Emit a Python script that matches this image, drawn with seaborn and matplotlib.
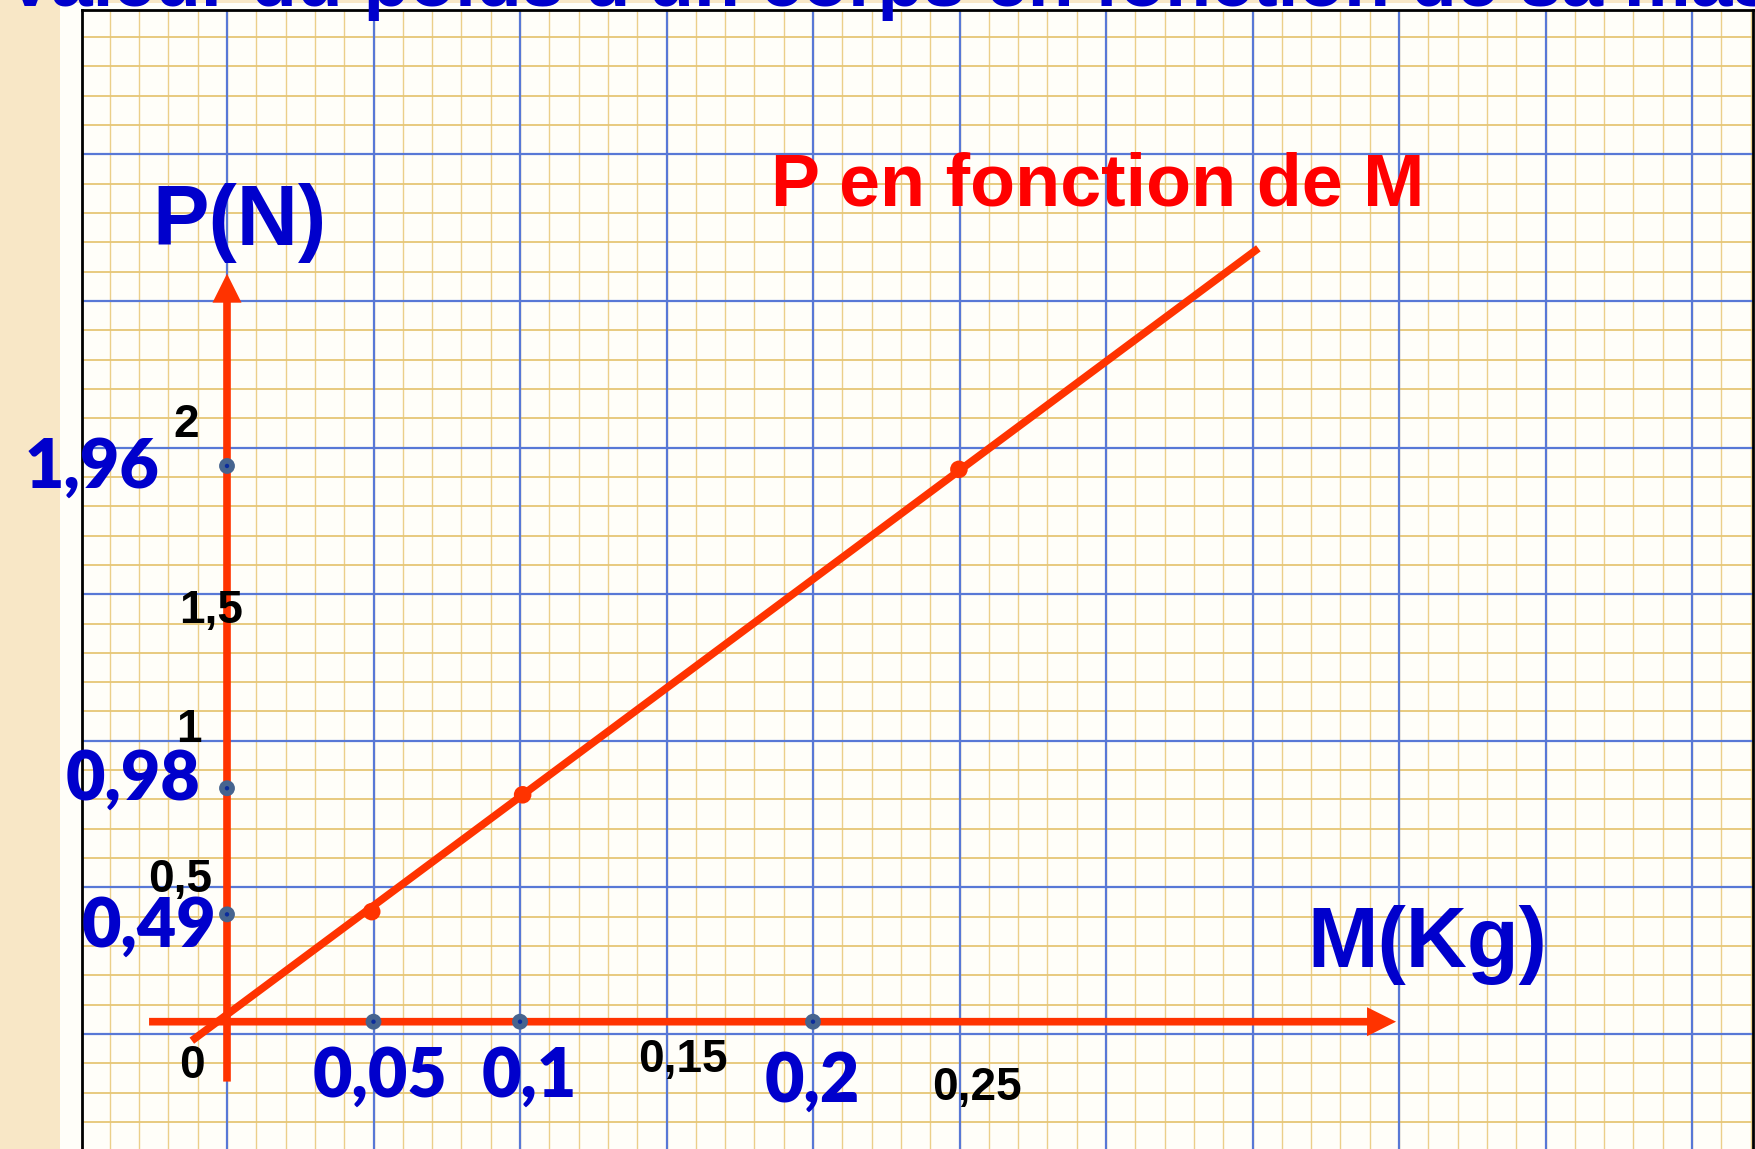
import numpy as np
import matplotlib
matplotlib.use("Agg")
import matplotlib.pyplot as plt
from matplotlib.patches import Rectangle
import seaborn as sns

# -----------------------------
# Data (M in kg, P in N)
# -----------------------------
pts_m = [0.0494, 0.1009, 0.2498]          # measured points on the line
pts_p = [0.487, 1.004, 2.444]
line_m = [-0.012, 0.352]                  # ends of the drawn line
line_p = [-0.084, 3.422]
xdots_m = [0.05, 0.1, 0.2]                # projections on the M axis
ydots_p = [0.475, 1.033, 2.459]           # projections on the P axis

xlab_blue = ["0,05", "0,1", "0,2"]
xlab_blue_pos = [(0.0522, -0.333), (0.1031, -0.331), (0.1997, -0.353)]
ylab_blue = ["0,49", "0,98", "1,96"]
ylab_blue_pos = [(-0.0266, 0.331), (-0.0321, 0.981), (-0.0462, 2.361)]

black_labels = ["0", "0,5", "1", "1,5", "2", "0,15", "0,25"]
black_pos = [(-0.0121, -0.247), (-0.0160, 0.575), (-0.0130, 1.239), (-0.0053, 1.764),
             (-0.0140, 2.587), (0.1556, -0.221), (0.2560, -0.346)]

title = "Valeur du poids d'un corps en fonction de sa masse"
curve_label = "P en fonction de M"

# -----------------------------
# Page geometry (pixels of the 1755x1149 picture)
# -----------------------------
W, H = 1755, 1149
X0, KG = 227, 2930.0      # pixel of M=0, pixels per kg
Y0, NW = 1021.7, 226.0    # pixel of P=0, pixels per N

RED = "#ff3300"
BLUE = "#0000cc"
DOT = "#46648f"

fig = plt.figure(figsize=(W / 100, H / 100), dpi=100, facecolor="#f8e7c6")
fig.patches.append(Rectangle((60 / W, 0), 1, (H - 3) / H, transform=fig.transFigure,
                             facecolor="#fffef9", edgecolor="none", zorder=-5))

ax = fig.add_axes([82 / W, 0, (1753 - 82) / W, (H - 10) / H], zorder=1)
ax.set_facecolor("#fffef9")
xlim = ((82 - X0) / KG, (1753 - X0) / KG)
ylim = ((Y0 - H) / NW, (Y0 - 10) / NW)

# graph paper grid (5 small squares per big square)
xmaj = np.arange(-0.05, 0.55, 0.05)
xmin = np.arange(-0.05, 0.55, 0.01)
ystep = 146.6 / NW
yoff = (Y0 - 1034) / NW
ymaj = np.arange(yoff - ystep, 4.6, ystep)
ymin = np.arange(yoff - ystep, 4.6, ystep / 5)
ax.vlines(xmin, ylim[0], ylim[1], color="#ebcf8a", lw=1.0, zorder=0)
ax.hlines(ymin, xlim[0], xlim[1], color="#e6c676", lw=1.3, zorder=0)
ax.vlines(xmaj, ylim[0], ylim[1], color="#5878d6", lw=1.6, zorder=1)
ax.hlines(ymaj, xlim[0], xlim[1], color="#5878d6", lw=1.6, zorder=1)

ax.set_xticks([])
ax.set_yticks([])
for s in ["left", "top", "right"]:
    ax.spines[s].set_color("black")
    ax.spines[s].set_linewidth(2)
ax.spines["bottom"].set_visible(False)

# axes arrows
arrow = dict(arrowstyle="-|>,head_length=0.6,head_width=0.3", color=RED, lw=5.5,
             shrinkA=0, shrinkB=0, mutation_scale=20, capstyle="butt", joinstyle="miter")
ax.annotate("", xy=(0.399, 0), xytext=(-0.0266, 0), arrowprops=arrow, zorder=3)
ax.annotate("", xy=(0, 3.31), xytext=(0, -0.265), arrowprops=arrow, zorder=3)

# the line and its points
sns.lineplot(x=line_m, y=line_p, ax=ax, color=RED, lw=5.5, zorder=4, solid_capstyle="butt")
sns.scatterplot(x=pts_m, y=pts_p, ax=ax, color=RED, s=160, edgecolor="none", zorder=5)

# projection dots on the axes
sns.scatterplot(x=xdots_m, y=[0] * len(xdots_m), ax=ax, color=DOT, s=130, edgecolor="none", zorder=5)
sns.scatterplot(x=[0] * len(ydots_p), y=ydots_p, ax=ax, color=DOT, s=130, edgecolor="none", zorder=5)
sns.scatterplot(x=xdots_m + [0] * len(ydots_p), y=[0] * len(xdots_m) + ydots_p, ax=ax,
                color="#0b2c9c", s=10, edgecolor="none", zorder=6)
ax.set_xlabel("")
ax.set_ylabel("")
ax.set_xlim(*xlim)
ax.set_ylim(*ylim)

# labels
for t, (x, y) in zip(xlab_blue + ylab_blue, xlab_blue_pos + ylab_blue_pos):
    ax.text(x, y, t, ha="center", va="baseline", color=BLUE, fontsize=49,
            family="Lato", weight="heavy", clip_on=False, zorder=7)
for t, (x, y) in zip(black_labels, black_pos):
    ax.text(x, y, t, ha="center", va="baseline", color="black", fontsize=33,
            family="Liberation Sans", weight="bold", clip_on=False, zorder=7)

ax.text(0.0044, (Y0 - 245) / NW, "P(N)", ha="center", va="baseline", color=BLUE,
        fontsize=61, family="Liberation Sans", weight="bold", zorder=7)
ax.text(0.4096, (Y0 - 966.7) / NW, "M(Kg)", ha="center", va="baseline", color=BLUE,
        fontsize=61, family="Liberation Sans", weight="bold", zorder=7)
ax.text(0.2971, (Y0 - 205) / NW, curve_label, ha="center", va="baseline", color="#ff0000",
        fontsize=53, family="Liberation Sans", weight="bold", zorder=7)

fig.text(5 / W, 1 - 6 / H, title, ha="left", va="baseline", color=BLUE, fontsize=54,
         family="Liberation Sans", weight="bold", zorder=10)

fig.savefig("out.png", dpi=100)
